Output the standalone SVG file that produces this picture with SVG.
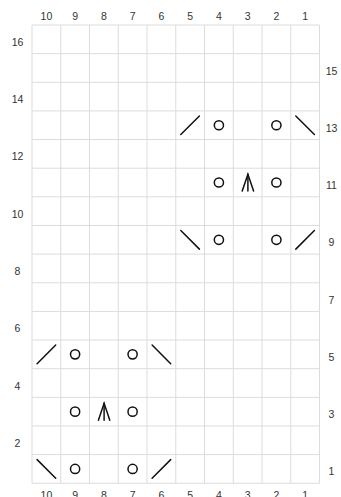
<svg xmlns="http://www.w3.org/2000/svg" xmlns:xlink="http://www.w3.org/1999/xlink" width="341" height="497" viewBox="0 0 341 497">
<style>
.grid line{stroke:#dcdcdc;stroke-width:1}
.lbl{font-family:"Liberation Sans",Arial,sans-serif;font-size:10.5px;fill:#333;text-anchor:middle}
.sym{fill:none;stroke:#111;stroke-width:1.5;stroke-linecap:round}
</style>
<defs>
<circle id="yo" class="sym" cx="0" cy="0" r="4.6"/>
<line id="rs" class="sym" x1="-9.3" y1="9.3" x2="9.3" y2="-9.3"/>
<line id="ls" class="sym" x1="-9.3" y1="-9.3" x2="9.3" y2="9.3"/>
<g id="cdd" class="sym"><polyline points="-5.7,8.5 0,-8.3 5.7,8.5"/><line x1="0" y1="-8.3" x2="0" y2="8.5"/></g>
</defs>
<rect width="341" height="497" fill="#fff"/>
<g id="grid" class="grid">
<line x1="32" y1="25" x2="32" y2="483.3"/>
<line x1="60.75" y1="25" x2="60.75" y2="483.3"/>
<line x1="89.5" y1="25" x2="89.5" y2="483.3"/>
<line x1="118.25" y1="25" x2="118.25" y2="483.3"/>
<line x1="147" y1="25" x2="147" y2="483.3"/>
<line x1="175.75" y1="25" x2="175.75" y2="483.3"/>
<line x1="204.5" y1="25" x2="204.5" y2="483.3"/>
<line x1="233.25" y1="25" x2="233.25" y2="483.3"/>
<line x1="262" y1="25" x2="262" y2="483.3"/>
<line x1="290.75" y1="25" x2="290.75" y2="483.3"/>
<line x1="319.5" y1="25" x2="319.5" y2="483.3"/>
<line x1="32" y1="25" x2="319.5" y2="25"/>
<line x1="32" y1="53.64" x2="319.5" y2="53.64"/>
<line x1="32" y1="82.28" x2="319.5" y2="82.28"/>
<line x1="32" y1="110.92" x2="319.5" y2="110.92"/>
<line x1="32" y1="139.56" x2="319.5" y2="139.56"/>
<line x1="32" y1="168.2" x2="319.5" y2="168.2"/>
<line x1="32" y1="196.84" x2="319.5" y2="196.84"/>
<line x1="32" y1="225.48" x2="319.5" y2="225.48"/>
<line x1="32" y1="254.12" x2="319.5" y2="254.12"/>
<line x1="32" y1="282.76" x2="319.5" y2="282.76"/>
<line x1="32" y1="311.4" x2="319.5" y2="311.4"/>
<line x1="32" y1="340.04" x2="319.5" y2="340.04"/>
<line x1="32" y1="368.68" x2="319.5" y2="368.68"/>
<line x1="32" y1="397.32" x2="319.5" y2="397.32"/>
<line x1="32" y1="425.96" x2="319.5" y2="425.96"/>
<line x1="32" y1="454.6" x2="319.5" y2="454.6"/>
<line x1="32" y1="483.24" x2="319.5" y2="483.24"/>
</g>
<g id="col-labels-top" class="lbl">
<text x="46.4" y="20">10</text><text x="75.1" y="20">9</text><text x="103.9" y="20">8</text><text x="132.6" y="20">7</text><text x="161.4" y="20">6</text><text x="190.1" y="20">5</text><text x="218.9" y="20">4</text><text x="247.6" y="20">3</text><text x="276.4" y="20">2</text><text x="305.1" y="20">1</text>
</g>
<g id="col-labels-bottom" class="lbl">
<text x="46.4" y="499.3">10</text><text x="75.1" y="499.3">9</text><text x="103.9" y="499.3">8</text><text x="132.6" y="499.3">7</text><text x="161.4" y="499.3">6</text><text x="190.1" y="499.3">5</text><text x="218.9" y="499.3">4</text><text x="247.6" y="499.3">3</text><text x="276.4" y="499.3">2</text><text x="305.1" y="499.3">1</text>
</g>
<g id="row-labels" class="lbl">
<text x="17.5" y="45.8">16</text>
<text x="331.5" y="74.5">15</text>
<text x="17.5" y="103.1">14</text>
<text x="331.5" y="131.7">13</text>
<text x="17.5" y="160.4">12</text>
<text x="331.5" y="189">11</text>
<text x="17.5" y="217.7">10</text>
<text x="331.5" y="246.3">9</text>
<text x="17.5" y="274.9">8</text>
<text x="331.5" y="303.6">7</text>
<text x="17.5" y="332.2">6</text>
<text x="331.5" y="360.9">5</text>
<text x="17.5" y="389.5">4</text>
<text x="331.5" y="418.1">3</text>
<text x="17.5" y="446.8">2</text>
<text x="331.5" y="475.4">1</text>
</g>
<g id="row13">
<use xlink:href="#rs" x="190.1" y="125.24"/>
<use xlink:href="#yo" x="218.9" y="125.24"/>
<use xlink:href="#yo" x="276.4" y="125.24"/>
<use xlink:href="#ls" x="305.1" y="125.24"/>
</g>
<g id="row11">
<use xlink:href="#yo" x="218.9" y="182.52"/>
<use xlink:href="#cdd" x="247.9" y="182.52"/>
<use xlink:href="#yo" x="276.4" y="182.52"/>
</g>
<g id="row9">
<use xlink:href="#ls" x="190.1" y="239.8"/>
<use xlink:href="#yo" x="218.9" y="239.8"/>
<use xlink:href="#yo" x="276.4" y="239.8"/>
<use xlink:href="#rs" x="305.1" y="239.8"/>
</g>
<g id="row5">
<use xlink:href="#rs" x="46.4" y="354.36"/>
<use xlink:href="#yo" x="75.1" y="354.36"/>
<use xlink:href="#yo" x="132.6" y="354.36"/>
<use xlink:href="#ls" x="161.4" y="354.36"/>
</g>
<g id="row3">
<use xlink:href="#yo" x="75.1" y="411.64"/>
<use xlink:href="#cdd" x="104.1" y="411.64"/>
<use xlink:href="#yo" x="132.6" y="411.64"/>
</g>
<g id="row1">
<use xlink:href="#ls" x="46.4" y="468.92"/>
<use xlink:href="#yo" x="75.1" y="468.92"/>
<use xlink:href="#yo" x="132.6" y="468.92"/>
<use xlink:href="#rs" x="161.4" y="468.92"/>
</g>
</svg>
